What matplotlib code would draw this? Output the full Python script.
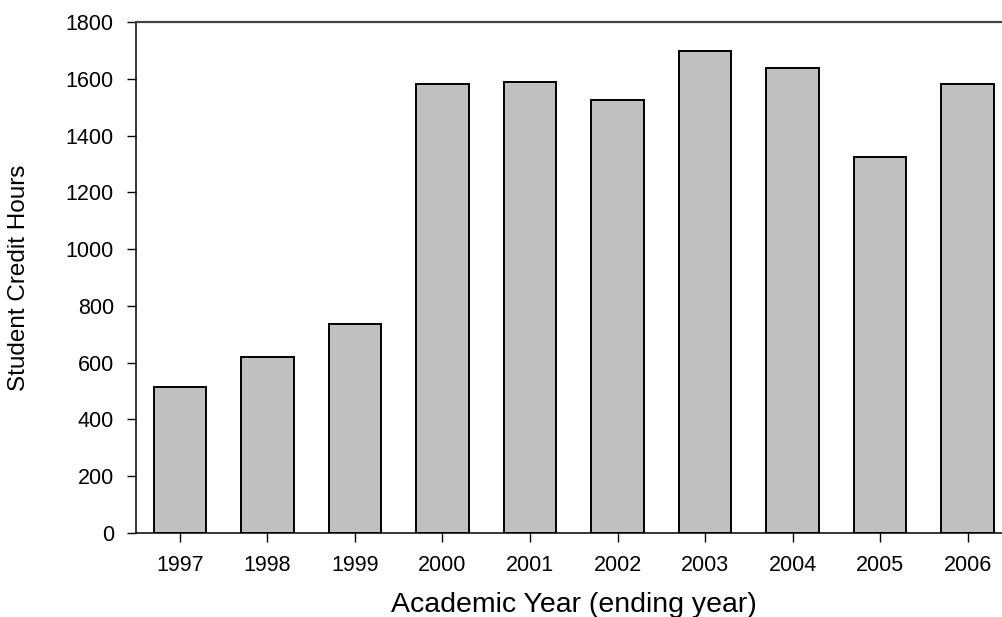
import matplotlib.pyplot as plt

plt.rcParams['font.family'] = ['Liberation Sans', 'DejaVu Sans']

years = [1997, 1998, 1999, 2000, 2001, 2002, 2003, 2004, 2005, 2006]
credit_hours = [513, 621, 736, 1581, 1590, 1525, 1699, 1637, 1325, 1582]
y_ticks = [0, 200, 400, 600, 800, 1000, 1200, 1400, 1600, 1800]

fig = plt.figure(figsize=(10.03, 6.17), dpi=100)
ax = fig.add_axes([0.1356, 0.1361, 0.8729, 0.8282])

ax.bar(years, credit_hours, width=0.6, color='#c0c0c0', edgecolor='black', linewidth=1.4)

ax.set_xlim(1996.5, 2006.5)
ax.set_ylim(0, 1800)
ax.set_xticks(years)
ax.set_xticklabels([str(y) for y in years], fontsize=15.5)
ax.set_yticks(y_ticks)
ax.set_yticklabels([str(v) for v in y_ticks], fontsize=15.5)
ax.tick_params(axis='both', direction='out', length=6.5, width=1, color='black', pad=9.5)
ax.tick_params(axis='y', right=False)
ax.tick_params(axis='x', top=False)

ax.set_xlabel('Academic Year (ending year)', fontsize=20.5, va='center')
ax.xaxis.set_label_coords(0.5, -0.1409)
ax.set_ylabel('Student Credit Hours', fontsize=17.5, va='center')
ax.yaxis.set_label_coords(-0.1331, 0.5)

ax.spines['top'].set_color('#444444')
ax.spines['top'].set_linewidth(1.6)
ax.spines['left'].set_linewidth(1.1)
ax.spines['bottom'].set_linewidth(1.1)
ax.spines['right'].set_visible(False)

fig.savefig('out.png', dpi=100)
